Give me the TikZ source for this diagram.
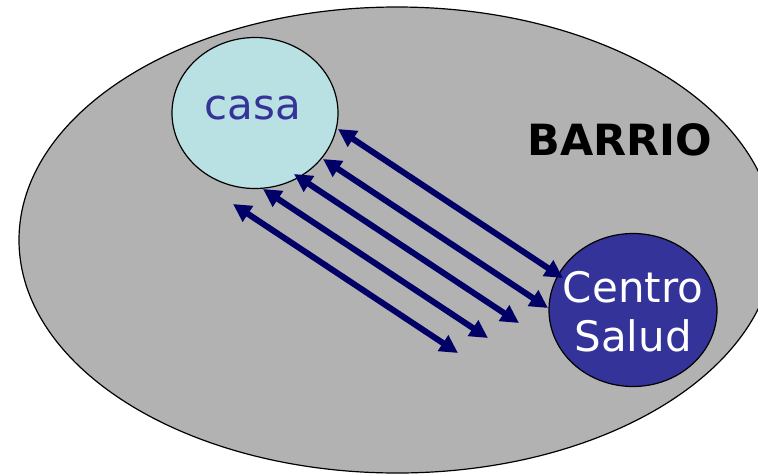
\documentclass[tikz,border=0pt]{standalone}
\usepackage{fontspec}
\setmainfont{DejaVu Sans}
\usetikzlibrary{arrows.meta,shapes.geometric}
\definecolor{barrio}{HTML}{B2B2B2}
\definecolor{casafill}{HTML}{B9E0E3}
\definecolor{salud}{HTML}{333399}
\definecolor{flecha}{HTML}{000066}
\begin{document}
\begin{tikzpicture}[x=1pt, y=-1pt,
	lugar/.style={ellipse, draw=black, line width=1.2pt, inner sep=0pt, align=center,
		font=\fontsize{42}{49}\selectfont},
	viaje/.style={flecha, line width=6pt, {Triangle[length=18pt,width=18pt]}-{Triangle[length=18pt,width=18pt]}}]
	\useasboundingbox (0,0) rectangle (758,475);
	\draw[fill=barrio, line width=1.2pt] (397,240) ellipse (378 and 233);
	\node[font=\fontsize{43}{49}\selectfont\bfseries] (barrio) at (620,140) {BARRIO};
	\node[lugar, fill=casafill, text=salud, minimum width=166pt, minimum height=151pt] (casa) at (255,113) {};
	\node[text=salud, font=\fontsize{42}{49}\selectfont] (casatxt) at (253,108) {casa};
	\node[lugar, fill=salud, text=white, minimum width=168pt, minimum height=153pt] (centro) at (633,310) {};
	\node[text=white, align=center, font=\fontsize{42}{49}\selectfont] (centrotxt) at (633,312) {Centro\\Salud};
	\foreach \i/\x/\y in {1/338/129, 2/323/159, 3/294/174, 4/263/189, 5/233/204} {
		\coordinate (a\i) at (\x,\y);
		\coordinate (b\i) at (\x+225,\y+149);
		\draw[viaje] (a\i) -- (b\i);
	}
\end{tikzpicture}
\end{document}
